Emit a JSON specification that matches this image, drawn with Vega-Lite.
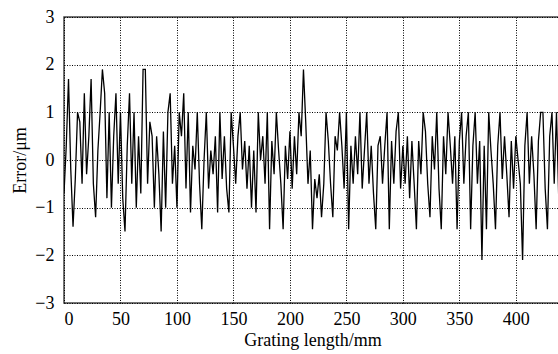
{
  "$schema": "https://vega.github.io/schema/vega-lite/v6.json",
  "autosize": "none",
  "width": 497,
  "height": 286,
  "padding": {"left": 64, "top": 17, "right": 0, "bottom": 51},
  "background": "white",
  "config": {
    "view": {"stroke": "#444", "strokeWidth": 1.5},
    "font": "Liberation Serif",
    "axis": {
      "labelFont": "Liberation Serif",
      "titleFont": "Liberation Serif",
      "labelFontSize": 18,
      "titleFontSize": 18,
      "titleFontWeight": "normal",
      "labelColor": "#000",
      "titleColor": "#000",
      "domain": false,
      "ticks": false,
      "grid": true,
      "gridColor": "#000",
      "gridDash": [1, 1.5],
      "gridWidth": 1,
      "gridOpacity": 1
    }
  },
  "data": {
    "values": [
      {"x":0,"y":-0.7},{"x":2,"y":0.3},{"x":4,"y":1.7},{"x":6,"y":-0.2},{"x":8,"y":-1.4},{"x":10,"y":-0.4},{"x":12,"y":1.0},{"x":14,"y":0.8},{"x":16,"y":-0.5},{"x":18,"y":1.4},
      {"x":20,"y":-0.3},{"x":22,"y":0.5},{"x":24,"y":1.7},{"x":26,"y":-0.5},{"x":28,"y":-1.2},{"x":30,"y":0.2},{"x":32,"y":1.0},{"x":34,"y":1.9},{"x":36,"y":1.4},{"x":38,"y":-0.8},
      {"x":40,"y":1.0},{"x":42,"y":-1.0},{"x":44,"y":0.5},{"x":46,"y":1.4},{"x":48,"y":-0.5},{"x":50,"y":1.0},{"x":52,"y":-0.8},{"x":54,"y":-1.5},{"x":56,"y":0.3},{"x":58,"y":1.4},
      {"x":60,"y":-0.5},{"x":62,"y":1.0},{"x":64,"y":-1.0},{"x":66,"y":0.5},{"x":68,"y":-0.7},{"x":70,"y":1.9},{"x":72,"y":1.9},{"x":74,"y":-0.5},{"x":76,"y":0.8},{"x":78,"y":0.5},
      {"x":80,"y":-1.0},{"x":82,"y":0.5},{"x":84,"y":-0.3},{"x":86,"y":-1.5},{"x":88,"y":0.6},{"x":90,"y":-1.0},{"x":92,"y":1.0},{"x":94,"y":1.4},{"x":96,"y":-0.5},{"x":98,"y":0.3},
      {"x":100,"y":-1.0},{"x":102,"y":1.0},{"x":104,"y":0.5},{"x":106,"y":1.4},{"x":108,"y":-0.6},{"x":110,"y":1.0},{"x":112,"y":-1.1},{"x":114,"y":0.3},{"x":116,"y":-0.2},{"x":118,"y":1.0},
      {"x":120,"y":-0.5},{"x":122,"y":-1.45},{"x":124,"y":0.0},{"x":126,"y":1.0},{"x":128,"y":-0.6},{"x":130,"y":0.2},{"x":132,"y":-0.3},{"x":134,"y":0.5},{"x":136,"y":-1.1},{"x":138,"y":1.0},
      {"x":140,"y":-0.4},{"x":142,"y":0.5},{"x":144,"y":-0.6},{"x":146,"y":-1.1},{"x":148,"y":1.0},{"x":150,"y":0.3},{"x":152,"y":-0.5},{"x":154,"y":0.5},{"x":156,"y":1.0},{"x":158,"y":-0.2},
      {"x":160,"y":0.4},{"x":162,"y":-0.6},{"x":164,"y":0.3},{"x":166,"y":-1.0},{"x":168,"y":0.2},{"x":170,"y":-1.1},{"x":172,"y":1.0},{"x":174,"y":0.0},{"x":176,"y":0.5},{"x":178,"y":-0.5},
      {"x":180,"y":1.0},{"x":182,"y":-1.45},{"x":184,"y":0.4},{"x":186,"y":-0.3},{"x":188,"y":1.0},{"x":190,"y":0.2},{"x":192,"y":-0.5},{"x":194,"y":-1.45},{"x":196,"y":0.3},{"x":198,"y":-0.4},
      {"x":200,"y":0.6},{"x":202,"y":-0.6},{"x":204,"y":0.5},{"x":206,"y":-0.3},{"x":208,"y":1.0},{"x":210,"y":0.5},{"x":212,"y":1.9},{"x":214,"y":0.8},{"x":216,"y":-0.5},{"x":218,"y":0.2},
      {"x":220,"y":-1.45},{"x":222,"y":-0.4},{"x":224,"y":-0.8},{"x":226,"y":-0.3},{"x":228,"y":-1.2},{"x":230,"y":-0.5},{"x":232,"y":1.0},{"x":234,"y":0.4},{"x":236,"y":-0.5},{"x":238,"y":-1.2},
      {"x":240,"y":0.5},{"x":242,"y":0.2},{"x":244,"y":1.0},{"x":246,"y":0.3},{"x":248,"y":-0.6},{"x":250,"y":1.0},{"x":252,"y":-1.45},{"x":254,"y":0.3},{"x":256,"y":-0.5},{"x":258,"y":0.5},
      {"x":260,"y":-0.3},{"x":262,"y":1.0},{"x":264,"y":-0.6},{"x":266,"y":0.2},{"x":268,"y":1.0},{"x":270,"y":-0.5},{"x":272,"y":0.3},{"x":274,"y":-0.7},{"x":276,"y":-1.45},{"x":278,"y":0.3},
      {"x":280,"y":0.5},{"x":282,"y":-0.5},{"x":284,"y":0.3},{"x":286,"y":1.0},{"x":288,"y":-1.45},{"x":290,"y":0.4},{"x":292,"y":-0.5},{"x":294,"y":0.6},{"x":296,"y":1.0},{"x":298,"y":-0.6},
      {"x":300,"y":0.3},{"x":302,"y":-0.5},{"x":304,"y":0.5},{"x":306,"y":-0.8},{"x":308,"y":0.4},{"x":310,"y":-0.5},{"x":312,"y":-1.45},{"x":314,"y":0.4},{"x":316,"y":-0.3},{"x":318,"y":1.0},
      {"x":320,"y":0.6},{"x":322,"y":-0.5},{"x":324,"y":-1.2},{"x":326,"y":0.5},{"x":328,"y":-0.2},{"x":330,"y":1.0},{"x":332,"y":-0.6},{"x":334,"y":-1.45},{"x":336,"y":0.5},{"x":338,"y":-0.3},
      {"x":340,"y":1.0},{"x":342,"y":0.3},{"x":344,"y":-0.5},{"x":346,"y":0.5},{"x":348,"y":-1.45},{"x":350,"y":0.4},{"x":352,"y":1.0},{"x":354,"y":-0.5},{"x":356,"y":0.5},{"x":358,"y":1.0},
      {"x":360,"y":-1.45},{"x":362,"y":0.3},{"x":364,"y":1.0},{"x":366,"y":-0.5},{"x":368,"y":0.4},{"x":370,"y":-2.1},{"x":372,"y":0.3},{"x":374,"y":-1.45},{"x":376,"y":1.0},{"x":378,"y":0.2},
      {"x":380,"y":-0.5},{"x":382,"y":-1.45},{"x":384,"y":0.3},{"x":386,"y":1.0},{"x":388,"y":-0.4},{"x":390,"y":0.5},{"x":392,"y":-0.3},{"x":394,"y":-1.2},{"x":396,"y":0.4},{"x":398,"y":-0.6},
      {"x":400,"y":0.5},{"x":402,"y":0.0},{"x":404,"y":-0.5},{"x":406,"y":-2.1},{"x":408,"y":0.3},{"x":410,"y":1.0},{"x":412,"y":-0.5},{"x":414,"y":0.5},{"x":416,"y":-0.3},{"x":418,"y":-1.45},
      {"x":420,"y":0.4},{"x":422,"y":1.0},{"x":424,"y":1.0},{"x":426,"y":-0.6},{"x":428,"y":-1.45},{"x":430,"y":0.5},{"x":432,"y":1.0},{"x":434,"y":-0.5},{"x":436,"y":1.0},{"x":438,"y":-0.8},
      {"x":440,"y":0.5}
    ]
  },
  "mark": {"type": "line", "color": "#000", "strokeWidth": 1.3, "clip": true},
  "encoding": {
    "x": {
      "field": "x", "type": "quantitative",
      "scale": {"domain": [0, 440], "nice": false},
      "axis": {"values": [0, 50, 100, 150, 200, 250, 300, 350, 400], "labelPadding": 7, "title": "Grating length/mm", "titlePadding": 3}
    },
    "y": {
      "field": "y", "type": "quantitative",
      "scale": {"domain": [-3, 3], "nice": false},
      "axis": {"values": [-3, -2, -1, 0, 1, 2, 3], "labelPadding": 10, "title": "Error/μm", "titlePadding": 5}
    }
  }
}
